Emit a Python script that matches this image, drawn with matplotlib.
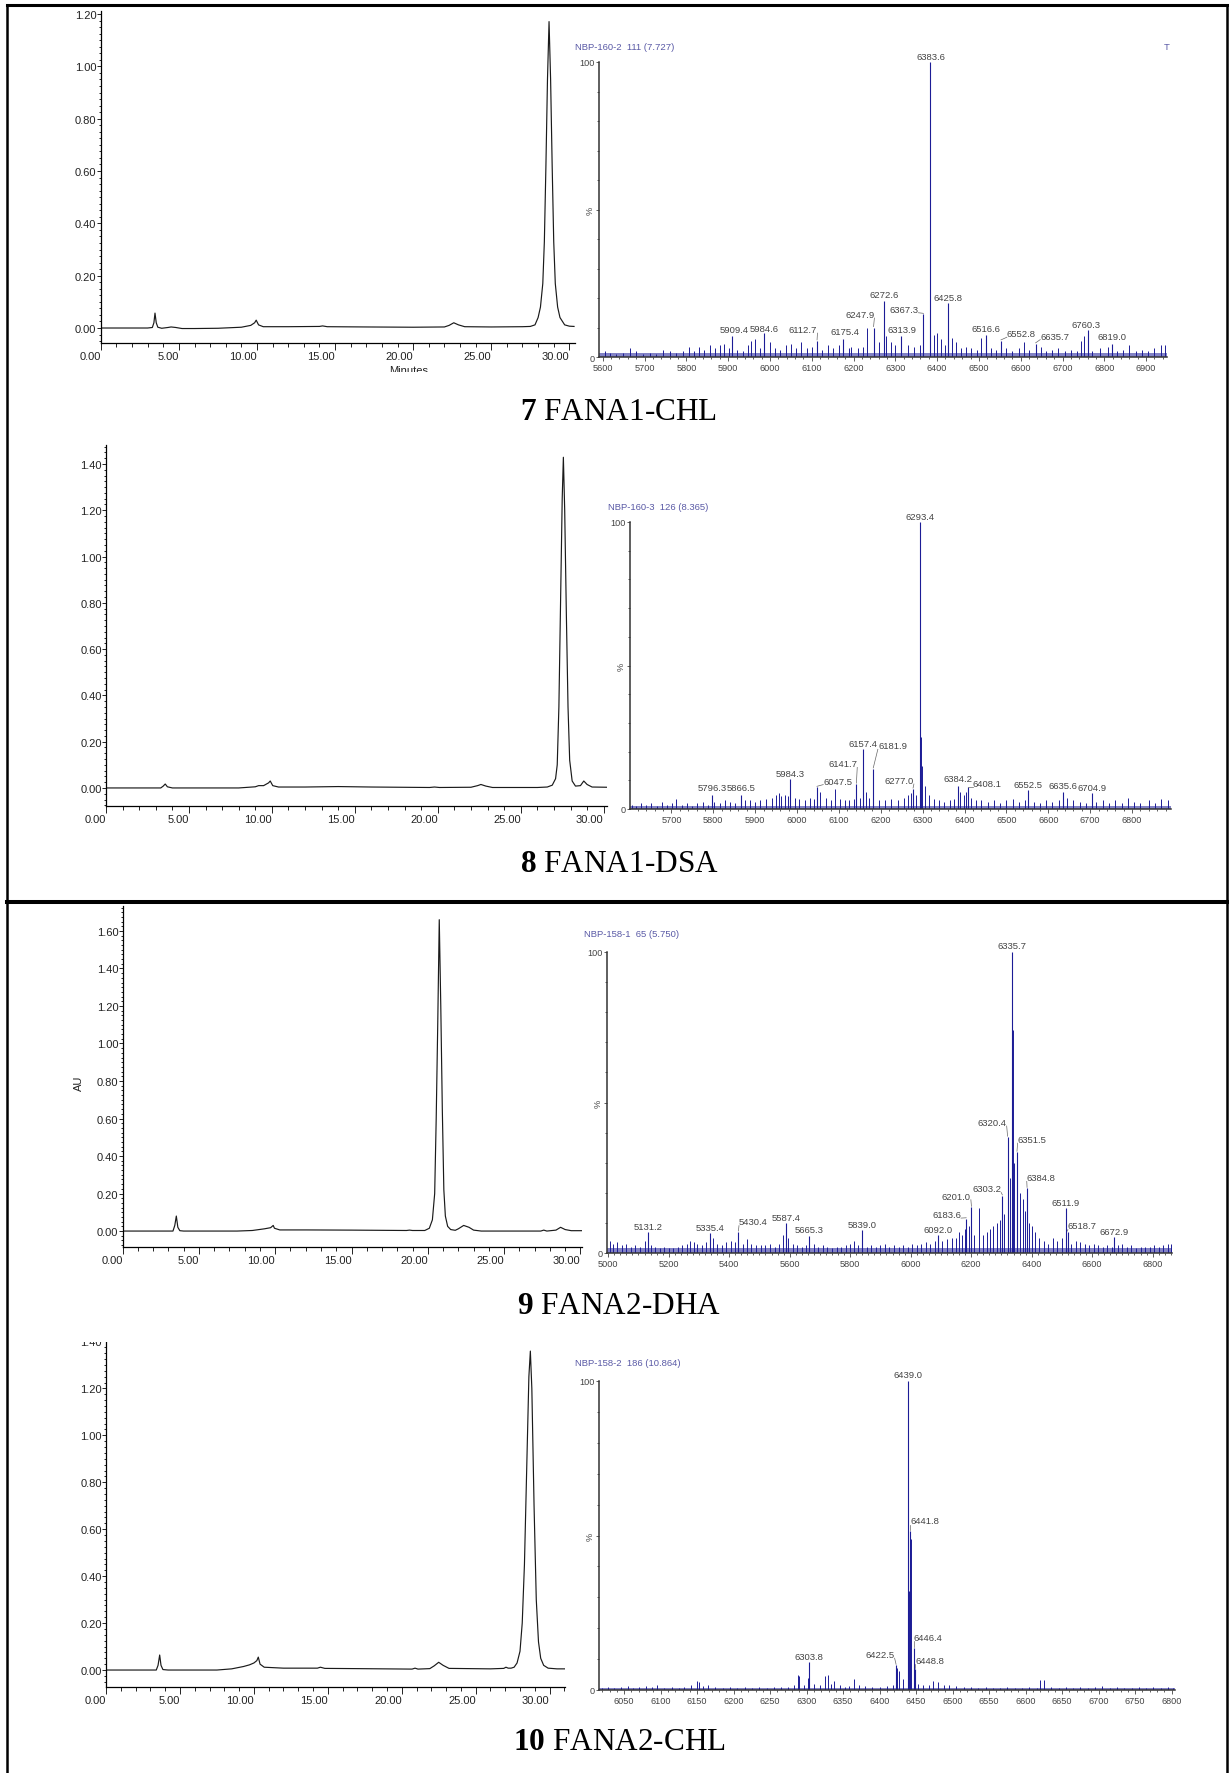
import matplotlib.pyplot as plt
from matplotlib import font_manager
from matplotlib.lines import Line2D
from matplotlib.patches import Rectangle
from matplotlib.ticker import FormatStrFormatter, MultipleLocator

W, H = 1229, 1774

# ---------------- HPLC traces (minutes, AU) ----------------
chrom7_t = [0.0, 3.0, 3.3, 3.4, 3.47, 3.55, 3.65, 3.9, 4.3, 4.5,
            4.8, 5.2, 6.0, 7.5, 9.0, 9.6, 9.85, 9.95, 10.1, 10.4,
            12.0, 14.0, 14.2, 14.5, 17.0, 20.0, 22.0, 22.3, 22.6, 22.9,
            23.3, 25.0, 27.0, 27.5, 27.8, 28.0, 28.15, 28.3, 28.4, 28.5,
            28.6, 28.7, 28.8, 28.9, 29.0, 29.1, 29.25, 29.4, 29.7, 30.0,
            30.3]
chrom7_au = [0.0, 0.0, 0.002, 0.02, 0.057, 0.02, 0.003, -0.001, 0.002, 0.004,
             0.002, -0.002, -0.002, -0.001, 0.003, 0.010, 0.020, 0.030, 0.012, 0.005,
             0.005, 0.006, 0.008, 0.005, 0.004, 0.003, 0.004, 0.010, 0.020, 0.012,
             0.005, 0.004, 0.005, 0.006, 0.012, 0.04, 0.08, 0.17, 0.33, 0.62,
             0.95, 1.171, 0.95, 0.62, 0.33, 0.17, 0.08, 0.04, 0.012, 0.007,
             0.006]

chrom8_t = [0.0, 3.3, 3.45, 3.57, 3.7, 4.0, 8.0, 9.0, 9.2, 9.5,
            9.8, 9.9, 10.05, 10.4, 12.0, 14.0, 16.0, 19.5, 19.8, 20.1,
            22.0, 22.4, 22.6, 22.9, 23.3, 26.0, 26.6, 26.9, 27.1, 27.2,
            27.3, 27.4, 27.5, 27.57, 27.65, 27.75, 27.85, 27.95, 28.1, 28.3,
            28.6, 28.8, 29.0, 29.3, 30.2]
chrom8_au = [0.0, 0.0, 0.008, 0.017, 0.005, 0.0, 0.0, 0.005, 0.010, 0.010,
             0.022, 0.030, 0.010, 0.004, 0.004, 0.006, 0.004, 0.002, 0.004, 0.002,
             0.003, 0.010, 0.015, 0.008, 0.002, 0.002, 0.004, 0.012, 0.04, 0.10,
             0.35, 0.80, 1.25, 1.429, 1.20, 0.75, 0.35, 0.12, 0.03, 0.008,
             0.010, 0.030, 0.015, 0.004, 0.003]

chrom9_t = [0.0, 3.3, 3.42, 3.52, 3.62, 3.75, 4.0, 7.5, 8.5, 9.3,
            9.7, 9.87, 9.95, 10.3, 12.0, 15.0, 18.6, 18.8, 19.0, 19.8,
            20.1, 20.3, 20.45, 20.55, 20.65, 20.75, 20.85, 20.95, 21.05, 21.15,
            21.3, 21.5, 21.8, 22.0, 22.35, 22.7, 23.0, 23.5, 27.4, 27.6,
            27.8, 28.4, 28.7, 29.0, 29.4, 30.13]
chrom9_au = [0.0, 0.0, 0.03, 0.08, 0.02, 0.002, 0.0, 0.0, 0.003, 0.012,
             0.018, 0.030, 0.015, 0.006, 0.006, 0.005, 0.003, 0.005, 0.003, 0.003,
             0.015, 0.06, 0.20, 0.60, 1.10, 1.66, 1.20, 0.65, 0.22, 0.08,
             0.025, 0.008, 0.004, 0.012, 0.030, 0.020, 0.005, 0.0, 0.0, 0.005,
             0.0, 0.005, 0.020, 0.008, 0.002, 0.002]

chrom10_t = [0.0, 3.4, 3.52, 3.63, 3.72, 3.85, 4.2, 7.5, 8.5, 9.3,
             9.7, 10.0, 10.2, 10.3, 10.42, 10.7, 12.0, 13.5, 14.3, 14.5,
             14.8, 17.0, 20.7, 20.9, 21.1, 21.9, 22.2, 22.5, 22.8, 23.2,
             26.0, 26.9, 27.05, 27.2, 27.4, 27.6, 27.8, 28.0, 28.15, 28.3,
             28.45, 28.6, 28.7, 28.8, 28.95, 29.1, 29.25, 29.4, 29.6, 29.9,
             30.5, 31.07]
chrom10_au = [0.0, 0.0, 0.02, 0.064, 0.02, 0.002, 0.0, 0.0, 0.005, 0.015,
              0.022, 0.030, 0.040, 0.055, 0.025, 0.012, 0.008, 0.008, 0.008, 0.012,
              0.007, 0.006, 0.004, 0.008, 0.004, 0.006, 0.018, 0.033, 0.020, 0.007,
              0.005, 0.007, 0.012, 0.008, 0.008, 0.012, 0.03, 0.08, 0.20, 0.45,
              0.85, 1.25, 1.359, 1.20, 0.70, 0.30, 0.12, 0.05, 0.02, 0.008,
              0.005, 0.005]

# ---------------- deconvoluted mass spectra (m/z, %) ----------------
# labelled peaks
ms7_peak_mz = [5909.4, 5984.6, 6112.7, 6175.4, 6247.9, 6272.6, 6313.9, 6367.3,
               6383.6, 6425.8, 6516.6, 6552.8, 6635.7, 6760.3, 6819.0]
ms7_peak_int = [7, 8, 5.5, 6, 10, 19, 7, 14.5, 100, 18.3, 7.5, 5.5, 4.5, 9, 4.5]
# smaller unlabelled lines
ms7_mz = [5605, 5618, 5632, 5648, 5665, 5680, 5697, 5712, 5728, 5745,
          5760, 5776, 5791, 5806, 5818, 5830, 5842, 5856, 5868, 5880,
          5890, 5902, 5920, 5935, 5948, 5955, 5965, 5975, 6000, 6012,
          6025, 6038, 6050, 6062, 6075, 6088, 6100, 6125, 6140, 6152,
          6165, 6188, 6195, 6210, 6222, 6232, 6260, 6278, 6290, 6300,
          6330, 6345, 6360, 6392, 6400, 6410, 6418, 6435, 6445, 6458,
          6470, 6480, 6495, 6505, 6528, 6540, 6565, 6580, 6595, 6607,
          6620, 6648, 6660, 6675, 6690, 6705, 6720, 6735, 6745, 6752,
          6770, 6790, 6808, 6830, 6845, 6860, 6875, 6890, 6905, 6920,
          6935, 6945]
ms7_int = [2, 1.5, 1, 1.5, 3, 2, 1, 1.5, 1, 2.5,
           2, 1.5, 2, 3.5, 2, 3.5, 2.5, 4, 3, 4,
           4.5, 3, 2.5, 2, 4, 5.5, 6, 3, 5, 3,
           2.5, 4, 4.5, 3, 5, 3, 3.5, 2.5, 4, 3,
           4, 3, 3.5, 3, 3.5, 10, 5, 7, 5, 4,
           4, 3.5, 4, 7.5, 8, 6, 4, 6.5, 5, 3,
           3.5, 3, 2.5, 6.5, 3, 2.5, 3, 2, 3, 5,
           2.5, 3.5, 2, 2.5, 3, 2, 2.5, 2, 5.5, 7,
           2, 3, 3.5, 2, 2.5, 4, 2, 2.5, 2, 3,
           4, 4]
ms7_floor = 1.2

ms8_peak_mz = [5796.3, 5866.5, 5984.3, 6047.5, 6141.7, 6157.4, 6181.9, 6277.0,
               6293.4, 6384.2, 6408.1, 6552.5, 6635.6, 6704.9]
ms8_peak_int = [5, 5, 10.4, 7.6, 8.7, 21, 14, 7, 100, 8.1, 7.5, 6.5, 6, 5.5]
ms8_mz = [5605, 5615, 5628, 5640, 5652, 5665, 5678, 5690, 5702, 5712,
          5725, 5738, 5750, 5762, 5775, 5788, 5802, 5815, 5828, 5840,
          5852, 5875, 5888, 5900, 5912, 5925, 5940, 5950, 5956, 5962,
          5970, 5978, 5995, 6005, 6018, 6030, 6040, 6055, 6068, 6080,
          6090, 6102, 6115, 6125, 6135, 6150, 6165, 6172, 6195, 6210,
          6225, 6240, 6255, 6265, 6272, 6285, 6296, 6299, 6305, 6315,
          6328, 6340, 6352, 6365, 6375, 6390, 6398, 6404, 6415, 6428,
          6440, 6455, 6470, 6485, 6500, 6515, 6530, 6545, 6565, 6580,
          6595, 6610, 6625, 6645, 6660, 6675, 6690, 6715, 6730, 6745,
          6760, 6775, 6790, 6805, 6820, 6840, 6855, 6870, 6885]
ms8_int = [1.5, 1, 2, 1.5, 2, 1, 2.5, 1.5, 2, 3.5,
           1.5, 2, 1, 2, 2.5, 1.5, 2.5, 2, 3, 2.5,
           2, 3, 3, 2.5, 3, 3.5, 4, 5, 5.5, 4.5,
           5, 4.5, 4, 3.5, 3, 4, 3.5, 6, 4, 3,
           7, 3.5, 3, 3, 3.5, 4, 6, 4, 3, 3,
           3.5, 3, 4, 5, 5.5, 5, 25, 15, 8, 5,
           3.5, 3, 2.5, 3, 3.5, 6, 5, 6, 4, 3,
           3, 2.5, 3, 2, 3, 3.5, 2.5, 3, 2.5, 2,
           3, 2.5, 3, 4, 3, 2.5, 2, 2.5, 3, 2,
           3, 2, 4, 2.5, 2, 3, 2, 3.5, 3]
ms8_floor = 1.2

ms9_peak_mz = [5131.2, 5335.4, 5430.4, 5587.4, 5665.3, 5839.0, 6092.0, 6183.6, 6201.0,
               6303.2, 6320.4, 6335.7, 6351.5, 6384.8, 6511.9, 6518.7, 6672.9]
ms9_peak_int = [7, 6.6, 7, 10, 5.5, 7.5, 5.9, 11.4, 15.2,
                19, 38.5, 100, 33.5, 21.5, 14.9, 7, 5.3]
ms9_mz = [5005, 5015, 5030, 5045, 5060, 5075, 5090, 5105, 5120, 5140,
          5155, 5170, 5185, 5200, 5215, 5230, 5245, 5260, 5272, 5282,
          5295, 5310, 5322, 5348, 5360, 5375, 5390, 5405, 5418, 5445,
          5460, 5472, 5490, 5505, 5520, 5535, 5550, 5565, 5578, 5595,
          5610, 5625, 5640, 5655, 5680, 5695, 5710, 5725, 5740, 5755,
          5770, 5785, 5800, 5812, 5825, 5855, 5870, 5885, 5900, 5915,
          5930, 5945, 5960, 5975, 5990, 6005, 6020, 6035, 6050, 6065,
          6080, 6105, 6120, 6135, 6150, 6160, 6170, 6178, 6192, 6210,
          6225, 6240, 6252, 6262, 6272, 6285, 6295, 6310, 6328, 6338,
          6343, 6360, 6370, 6378, 6392, 6400, 6412, 6425, 6440, 6455,
          6470, 6485, 6500, 6530, 6545, 6560, 6575, 6590, 6605, 6620,
          6635, 6650, 6665, 6685, 6700, 6715, 6730, 6745, 6760, 6775,
          6790, 6805, 6820, 6835, 6850, 6860]
ms9_int = [4, 3, 3.5, 2.5, 3, 2, 2.5, 2, 4, 2.5,
           2, 1.5, 2, 1.5, 1.5, 2, 2.5, 3, 4, 3.5,
           3, 2.5, 3.5, 5, 3, 2.5, 3.5, 4, 3.5, 3,
           4.5, 3, 2.5, 2.5, 2.5, 3, 2, 3, 6, 5,
           3, 2.5, 2, 2.5, 3, 2, 2.5, 2, 1.5, 2,
           2, 2.5, 3, 4, 2.5, 2, 2.5, 2, 2.5, 3,
           2, 2.5, 2, 2.5, 2, 3, 2.5, 3, 3.5, 3,
           4, 4, 4.5, 5, 5, 7, 6, 8, 9, 6,
           15, 6, 7, 8, 9, 10, 11, 13, 25, 74,
           30, 20, 18, 14, 10, 9, 7, 5, 4, 3,
           5, 4, 5, 3, 4, 3.5, 3, 2.5, 3, 2.5,
           2, 2.5, 2, 2.5, 3, 2, 2.5, 1.5, 2, 2,
           2, 2.5, 2, 2.5, 3, 3]
ms9_floor = 1.6

ms10_peak_mz = [6303.8, 6422.5, 6439.0, 6441.8, 6446.4, 6448.8]
ms10_peak_int = [9.1, 8, 100, 51.5, 13.7, 6.7]
ms10_mz = [6020, 6028, 6036, 6045, 6055, 6062, 6070, 6080, 6088, 6095,
           6105, 6115, 6125, 6132, 6142, 6150, 6153, 6158, 6165, 6175,
           6185, 6195, 6205, 6215, 6225, 6235, 6245, 6255, 6265, 6275,
           6282, 6288, 6290, 6296, 6302, 6310, 6318, 6325, 6329, 6334,
           6338, 6345, 6352, 6358, 6365, 6372, 6380, 6390, 6400, 6410,
           6418, 6424, 6426, 6432, 6440, 6442.5, 6452, 6460, 6467, 6473,
           6480, 6488, 6495, 6505, 6515, 6525, 6535, 6545, 6555, 6565,
           6575, 6585, 6595, 6605, 6615, 6620, 6625, 6635, 6645, 6655,
           6665, 6675, 6685, 6695, 6705, 6715, 6725, 6735, 6745, 6755,
           6765, 6775, 6785, 6795, 6802]
ms10_int = [0.8, 1, 0.8, 1, 1.2, 0.8, 1, 1.2, 1, 1.5,
            0.8, 1, 0.8, 1, 1.5, 3, 2.5, 1.2, 1.5, 1,
            0.8, 1, 0.8, 1, 0.8, 1, 0.8, 1, 1, 1,
            1.5, 5, 4.5, 1.5, 4, 2, 1.5, 4.5, 5, 2,
            3, 1.5, 1, 1.2, 3.5, 1.5, 1.2, 1, 1, 1.2,
            1.5, 7, 6, 3.5, 32, 49, 2, 1.5, 1.5, 3,
            2.5, 1.5, 1.5, 1.2, 1, 1, 0.8, 1, 0.8, 0.8,
            1, 0.8, 0.8, 1, 0.8, 3.2, 3.2, 1, 0.8, 1,
            0.8, 1, 0.8, 1, 1.3, 0.8, 1, 0.8, 0.8, 1,
            0.8, 1, 0.8, 1, 0.8]
ms10_floor = 0.6

ms_titles = ["NBP-160-2  111 (7.727)", "NBP-160-3  126 (8.365)",
             "NBP-158-1  65 (5.750)", "NBP-158-2  186 (10.864)"]
captions = ["7", "8", "9", "10"]
caption_names = ["FANA1-CHL", "FANA1-DSA", "FANA2-DHA", "FANA2-CHL"]

# ---------------- layout: label offsets (m/z, %) ----------------
ms7_dx = [4, 2, -34, 3, -33, 0, 1, -47, 2, 0, 0, 49, 46, -3, -1]
ms7_dy = [2.3, 1.8, 3.8, 2.8, 4.4, 2.2, 2.3, 1.7, 1.7, 1.8, 2.3, 2.4, 2.6, 2.0, 2.6]
ms8_dx = [0, 0, 0, 50, -33, 0, 46, -33, 0, 0, 46, 0, 0, 0]
ms8_dy = [2.6, 2.6, 2.0, 2.1, 7.0, 1.7, 8.0, 2.9, 2.0, 2.4, 1.5, 2.2, 2.1, 2.1]
ms9_dx = [0, 0, 50, 0, 0, 0, 0, -65, -50, -52, -51, 0, 50, 47, 0, 49, 0]
ms9_dy = [1.8, 1.8, 3.3, 1.9, 2.3, 2.0, 1.9, 1.4, 3.7, 2.3, 4.9, 2.0, 4.2, 3.5, 1.8, 2.0, 1.9]
ms10_dx = [0, -22, 0, 20, 20, 20]
ms10_dy = [1.6, 3.5, 2.0, 3.2, 3.3, 3.0]

names = {f.name for f in font_manager.fontManager.ttflist}
if "Liberation Sans Narrow" in names:
    MS_FONT, MS_SIZE, MS_TICK, MS_TITLE = "Liberation Sans Narrow", 8.0, 7.6, 7.6
else:
    MS_FONT, MS_SIZE, MS_TICK, MS_TITLE = "Liberation Sans", 6.8, 6.6, 6.8

plt.rcParams["font.family"] = ["Liberation Sans", "DejaVu Sans"]
plt.rcParams["mathtext.fontset"] = "custom"
plt.rcParams["mathtext.rm"] = "Liberation Serif"
plt.rcParams["mathtext.bf"] = "Liberation Serif:bold"

MS_BLUE = "#1c1c96"
TITLE_BLUE = "#5a5aa6"


def px_axes(fig, left, top, right, bottom):
    return fig.add_axes([left / W, 1 - bottom / H, (right - left) / W, (bottom - top) / H])


def draw_chrom(ax, t, au, xlim, ylim):
    ax.plot(t, au, color="#1a1a1a", lw=0.85)
    ax.set_xlim(*xlim)
    ax.set_ylim(*ylim)
    ax.patch.set_alpha(0)
    ax.spines[["top", "right"]].set_visible(False)
    ax.spines[["left", "bottom"]].set_linewidth(0.9)
    ax.xaxis.set_major_locator(MultipleLocator(5))
    ax.xaxis.set_minor_locator(MultipleLocator(1))
    ax.yaxis.set_major_locator(MultipleLocator(0.2))
    ax.yaxis.set_minor_locator(MultipleLocator(0.025))
    ax.xaxis.set_major_formatter(FormatStrFormatter("%.2f"))
    ax.yaxis.set_major_formatter(FormatStrFormatter("%.2f"))
    ax.tick_params(axis="both", which="both", labelsize=8, colors="#222222", width=0.7)
    ax.tick_params(axis="x", which="major", length=5, pad=0.6)
    ax.tick_params(axis="x", which="minor", length=3.2)
    ax.tick_params(axis="y", which="major", length=2.6, pad=0.5)
    ax.tick_params(axis="y", which="minor", length=1.6)
    plt.setp(ax.get_xticklabels(), ha="right")


def draw_ms(ax, mz, inten, floor, peak_mz, peak_int, dx, dy, xlim, major, minor, half_w):
    ax.axhspan(0, floor, color=MS_BLUE, alpha=0.55, lw=0)
    ax.vlines(mz, 0, inten, color=MS_BLUE, lw=0.7)
    ax.vlines(peak_mz, 0, peak_int, color=MS_BLUE, lw=0.8)
    ax.set_xlim(*xlim)
    ax.set_ylim(0, 100)
    ax.patch.set_alpha(0)
    ax.spines[["top", "right"]].set_visible(False)
    ax.spines[["left", "bottom"]].set_linewidth(1.1)
    ax.spines[["left", "bottom"]].set_color("#333333")
    ax.xaxis.set_major_locator(MultipleLocator(major))
    ax.xaxis.set_minor_locator(MultipleLocator(minor))
    ax.set_yticks([0, 50, 100])
    ax.set_yticklabels(["0", "%", "100"])
    ax.yaxis.set_minor_locator(MultipleLocator(10))
    ax.tick_params(axis="both", which="both", labelsize=MS_TICK, colors="#444444", width=0.6)
    ax.tick_params(axis="x", which="major", length=2.6, pad=2)
    ax.tick_params(axis="x", which="minor", length=1.5)
    ax.tick_params(axis="y", which="major", length=2.2, pad=0.8)
    ax.tick_params(axis="y", which="minor", length=1.5)
    for lbl in ax.get_xticklabels() + ax.get_yticklabels():
        lbl.set_family(MS_FONT)
    plt.setp(ax.get_yticklabels()[1], rotation=90, va="center")
    for m, i, ox, oy in zip(peak_mz, peak_int, dx, dy):
        cx, cy = m + ox, i + oy
        ax.text(cx, cy, f"{m:.1f}", ha="center", va="center", fontsize=MS_SIZE,
                family=MS_FONT, color="#444444", clip_on=False)
        if abs(ox) > 10:
            sx = cx - half_w if ox > 0 else cx + half_w
            ax.plot([sx, m], [cy - 1.2, i + 0.3], color="#666666", lw=0.5, clip_on=False)


fig = plt.figure(figsize=(W / 100, H / 100), dpi=100)
fig.patch.set_facecolor("white")

# panel 7
ax = px_axes(fig, 100.8, 12, 574.5, 344)
draw_chrom(ax, chrom7_t, chrom7_au, (0, 30.33), (-0.0573, 1.2115))
ax = px_axes(fig, 598.6, 63, 1167, 358)
draw_ms(ax, ms7_mz, ms7_int, ms7_floor, ms7_peak_mz, ms7_peak_int, ms7_dx, ms7_dy,
        (5590, 6950), 100, 20, 35)

# panel 8
ax = px_axes(fig, 106, 446, 607, 807)
draw_chrom(ax, chrom8_t, chrom8_au, (0, 30.2), (-0.078, 1.482))
ax = px_axes(fig, 630, 523, 1171, 810)
draw_ms(ax, ms8_mz, ms8_int, ms8_floor, ms8_peak_mz, ms8_peak_int, ms8_dx, ms8_dy,
        (5601, 6893), 100, 20, 35)

# panel 9
ax = px_axes(fig, 122.6, 907, 582.4, 1248)
draw_chrom(ax, chrom9_t, chrom9_au, (0, 30.13), (-0.085, 1.733))
ax = px_axes(fig, 607, 953, 1172, 1254)
draw_ms(ax, ms9_mz, ms9_int, ms9_floor, ms9_peak_mz, ms9_peak_int, ms9_dx, ms9_dy,
        (4996, 6864), 200, 20, 48)

# panel 10
ax = px_axes(fig, 106, 1342, 565.4, 1688)
draw_chrom(ax, chrom10_t, chrom10_au, (0, 31.07), (-0.0723, 1.402))
ax = px_axes(fig, 598.6, 1382, 1175.3, 1691)
draw_ms(ax, ms10_mz, ms10_int, ms10_floor, ms10_peak_mz, ms10_peak_int, ms10_dx, ms10_dy,
        (6015, 6805), 50, 10, 20)

# spectrum headers
for (x, y), title in zip([(575, 47), (608, 507), (584, 935), (575, 1364)], ms_titles):
    fig.text(x / W, 1 - y / H, title, ha="left", va="center", fontsize=MS_TITLE,
             family=MS_FONT, color=TITLE_BLUE)
fig.text(1164 / W, 1 - 47 / H, "T", ha="left", va="center", fontsize=MS_TITLE,
         family=MS_FONT, color=TITLE_BLUE)

# axis titles
fig.text(79 / W, 1 - 1083 / H, "AU", rotation=90, ha="center", va="center",
         fontsize=8, color="#222222")
fig.text(409 / W, 1 - 366 / H, "Minutes", ha="center", va="top", fontsize=8,
         color="#222222")

# captions
for y, num, name in zip([412, 865, 1307, 1743], captions, caption_names):
    fig.text(619 / W, 1 - y / H, rf"$\mathbf{{{num}}}$ {name}", ha="center", va="center",
             fontsize=22.5, family="Liberation Serif", color="black")

# cropped bits of the original screenshots
for x0, y0, x1, y1 in [(350, 372.5, 470, 395), (40, 1318, 120, 1342.5)]:
    fig.add_artist(Rectangle((x0 / W, 1 - y1 / H), (x1 - x0) / W, (y1 - y0) / H,
                             transform=fig.transFigure, facecolor="white",
                             edgecolor="none", zorder=5))

# frame
for xs, ys, lw in [((7, 1229), (6, 6), 2.2), ((7, 7), (6, 1774), 1.8),
                   ((1227, 1227), (6, 1774), 1.8), ((7, 1229), (902.5, 902.5), 2.9)]:
    fig.add_artist(Line2D([x / W for x in xs], [1 - y / H for y in ys],
                          transform=fig.transFigure, color="black", lw=lw, zorder=6))

fig.savefig("out.png", dpi=100, facecolor="white")
